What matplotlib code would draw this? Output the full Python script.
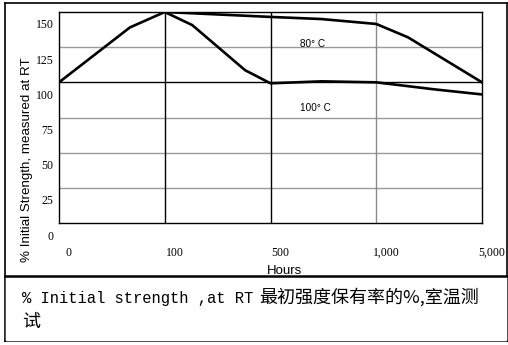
import matplotlib
matplotlib.use('Agg')
import matplotlib.pyplot as plt
import matplotlib.transforms as mtransforms
from matplotlib.lines import Line2D

# data
hours_labels = ['0', '100', '500', '1,000', '5,000']
x_pos = [0, 1, 2, 3, 4]
y_ticks = [0, 25, 50, 75, 100, 125, 150]

x_80 = [0, 0.67, 1, 2, 2.48, 3, 3.3, 4]
y_80 = [100, 139, 150, 146.5, 145, 141.5, 132, 100]

x_100 = [1, 1.26, 1.76, 2, 2.48, 3, 3.55, 4]
y_100 = [150, 140.7, 108.6, 99.3, 100.7, 100, 95, 91.4]

caption_latin = '% Initial strength ,at RT'
caption_cjk = '最初强度保有率的%,室温测'
caption_line2 = '试'

W, H = 508, 345


def fx(px):
    return px / W


def fy(py):
    return 1 - py / H


fig = plt.figure(figsize=(W / 100, H / 100), dpi=100)
ax = fig.add_axes([fx(59), fy(223), fx(482) - fx(59), fy(12) - fy(223)])

ax.set_xlim(0, 4)
ax.set_ylim(0, 150)

# grid lines
for v in [25, 50, 75, 125]:
    ax.axhline(v, color='#9a9a9a', lw=1.0, zorder=1)
ax.axhline(100, color='black', lw=1.0, zorder=1)
ax.axvline(1, color='black', lw=1.0, zorder=1)
ax.axvline(2, color='black', lw=1.0, zorder=1)
ax.axvline(3, color='#8a8a8a', lw=1.0, zorder=1)

ax.plot(x_80, y_80, color='black', lw=1.9, solid_joinstyle='round', zorder=3)
ax.plot(x_100, y_100, color='black', lw=1.9, solid_joinstyle='round', zorder=3)

ax.text(2.28, 127.5, '80° C', fontsize=7.2, family='Liberation Sans', va='center')
ax.text(2.28, 82, '100° C', fontsize=7.2, family='Liberation Sans', va='center')

for s in ax.spines.values():
    s.set_linewidth(1.0)
    s.set_color('black')

ax.set_xticks(x_pos)
ax.set_xticklabels(hours_labels, family='Liberation Serif', fontsize=8.5)
ax.set_yticks(y_ticks)
ax.set_yticklabels([str(v) for v in y_ticks], family='Liberation Serif', fontsize=8.5)
ax.tick_params(length=0, pad=4)
ax.tick_params(axis='x', pad=17)

# the labels sit off their grid lines in the original
off_x = mtransforms.ScaledTranslation(10 / 100, 0, fig.dpi_scale_trans)
for lab in ax.get_xticklabels():
    lab.set_transform(lab.get_transform() + off_x)
off_y = mtransforms.ScaledTranslation(0, -12 / 100, fig.dpi_scale_trans)
for lab in ax.get_yticklabels():
    lab.set_transform(lab.get_transform() + off_y)

fig.text(fx(27), fy(160), '% Initial Strength, measured at RT', rotation=90,
         family='Liberation Sans', fontsize=9.6, ha='center', va='center')
fig.text(fx(285), fy(273.5), 'Hours', family='Liberation Sans', fontsize=9.5,
         ha='center', va='baseline')

# table frame around figure and caption
frame = dict(color='black', transform=fig.transFigure)
fig.add_artist(Line2D([fx(5), fx(507)], [fy(3), fy(3)], lw=1.2, **frame))
fig.add_artist(Line2D([fx(5), fx(5)], [fy(3), fy(341)], lw=1.2, **frame))
fig.add_artist(Line2D([fx(507), fx(507)], [fy(3), fy(341)], lw=1.2, **frame))
fig.add_artist(Line2D([fx(5), fx(507)], [fy(341), fy(341)], lw=1.2, **frame))
fig.add_artist(Line2D([fx(5), fx(507)], [fy(275.5), fy(275.5)], lw=1.8, zorder=5, **frame))

# white patch so "Hours" is cut by the caption box like the original
fig.patches.append(plt.Rectangle((fx(6), fy(340)), fx(500), fy(276) - fy(340),
                                 transform=fig.transFigure, color='white', zorder=4))

fig.text(fx(22), fy(303), caption_latin, family='Liberation Mono', fontsize=11.2,
         va='baseline', zorder=6)
fig.text(fx(259), fy(303), caption_cjk, family=['Noto Sans CJK SC', 'DejaVu Sans'],
         fontsize=13, va='baseline', zorder=6)
fig.text(fx(22), fy(327), caption_line2, family=['Noto Sans CJK SC', 'DejaVu Sans'],
         fontsize=13, va='baseline', zorder=6)

fig.savefig('out.png', dpi=100)
